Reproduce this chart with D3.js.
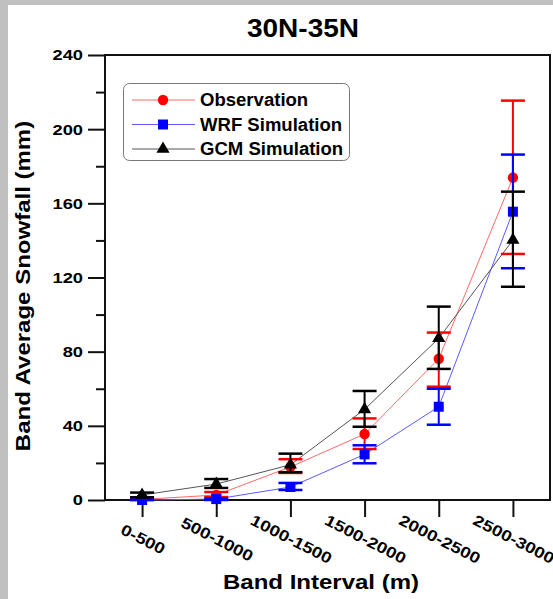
<!DOCTYPE html>
<html>
<head>
<meta charset="utf-8">
<script src="https://cdn.jsdelivr.net/npm/d3@7"></script>
<style>
  html, body { margin: 0; padding: 0; background: #fff; }
  svg { display: block; }
  text { font-family: "Liberation Sans", Arial, sans-serif; font-weight: bold; fill: #000; }
</style>
</head>
<body>
<svg id="chart" width="553" height="599"></svg>
<script>
// Elevation bands and snowfall (mm) with error-bar bounds
const bands = ["0-500", "500-1000", "1000-1500", "1500-2000", "2000-2500", "2500-3000"];

const obsMean = [0.3, 2.7, 17.8, 35.6, 76.2, 173.9];
const obsLow  = [0, 1.6, 14.6, 27.5, 61.1, 132.7];
const obsHigh = [0.8, 4.3, 22, 44, 90.3, 215.4];

const wrfMean = [0, 0.5, 7, 24.6, 50.3, 155.5];
const wrfLow  = [0, 0, 5.4, 19.8, 40.6, 125];
const wrfHigh = [0.3, 0.8, 9.2, 29.5, 60, 186.3];

const gcmMean = [2.7, 8.6, 19, 48.9, 87.2, 140.2];
const gcmLow  = [1.5, 6.5, 15, 39.5, 70.7, 115];
const gcmHigh = [4, 11.3, 25, 58.8, 104.3, 166.3];

const yTicks = [0, 40, 80, 120, 160, 200, 240];
const yMinorTicks = [20, 60, 100, 140, 180, 220];

const svg = d3.select("#chart");

// light grey page edge
svg.append("rect").attr("x", 0).attr("y", 0).attr("width", 553).attr("height", 599).attr("fill", "#c0c0c0");
svg.append("rect").attr("x", 8).attr("y", 5).attr("width", 545).attr("height", 594).attr("fill", "#fff");

const L = 105, R = 550, T = 55, B = 500;
const x = d3.scaleLinear().domain([0.5, 6.5]).range([L, R]);
const y = d3.scaleLinear().domain([0, 240]).range([B, T]);

// stretch text horizontally along its own direction
function widen(sel, k) {
  sel.each(function () {
    const w = this.getComputedTextLength();
    d3.select(this).attr("textLength", w * k).attr("lengthAdjust", "spacingAndGlyphs");
  });
}

// title
svg.append("text").attr("x", 303).attr("y", 37).attr("text-anchor", "middle")
  .style("font-size", "25px").text("30N-35N").call(widen, 1.12);

// frame
svg.append("rect").attr("x", L).attr("y", T).attr("width", R - L).attr("height", B - T)
  .attr("fill", "none").attr("stroke", "#111").attr("stroke-width", 2);

// y axis: major ticks with labels, minor ticks without
const yAxis = svg.append("g").attr("transform", `translate(${L},0)`)
  .call(d3.axisLeft(y).tickValues(yTicks).tickSize(17).tickPadding(5).tickFormat(d3.format("d")));
yAxis.select(".domain").remove();
yAxis.selectAll("line").attr("stroke", "#111").attr("stroke-width", 2);
yAxis.selectAll("text").style("font-size", "15.5px").attr("font-family", null).call(widen, 1.18);

const yMinor = svg.append("g").attr("transform", `translate(${L},0)`)
  .call(d3.axisLeft(y).tickValues(yMinorTicks).tickSize(9).tickFormat(""));
yMinor.select(".domain").remove();
yMinor.selectAll("line").attr("stroke", "#111").attr("stroke-width", 2);

// x axis: ticks below, rotated band labels
const xAxis = svg.append("g").attr("transform", `translate(0,${B})`)
  .call(d3.axisBottom(x).tickValues(d3.range(1, bands.length + 1)).tickSize(17)
    .tickFormat((d) => bands[d - 1]));
xAxis.select(".domain").remove();
xAxis.selectAll("line").attr("stroke", "#111").attr("stroke-width", 2);
xAxis.selectAll("text")
  .style("font-size", "15.5px").attr("font-family", null)
  .attr("text-anchor", "middle").attr("y", 0).attr("dy", 0)
  .attr("transform", "translate(-2,44) rotate(27)")
  .call(widen, 1.2);

// axis titles
svg.append("text").attr("x", 321).attr("y", 589).attr("text-anchor", "middle")
  .style("font-size", "20px").text("Band Interval (m)").call(widen, 1.2);
svg.append("text").attr("transform", "translate(30,286) rotate(-90)").attr("text-anchor", "middle")
  .style("font-size", "20px").text("Band Average Snowfall (mm)").call(widen, 1.2);

const series = [
  { name: "Observation", mean: obsMean, low: obsLow, high: obsHigh, color: "#ff0000", line: "#ff6a6a", shape: "circle" },
  { name: "WRF Simulation", mean: wrfMean, low: wrfLow, high: wrfHigh, color: "#0000ff", line: "#5a5aff", shape: "square" },
  { name: "GCM Simulation", mean: gcmMean, low: gcmLow, high: gcmHigh, color: "#000000", line: "#555555", shape: "triangle" }
];

const symbolFor = {
  circle: d3.symbol().type(d3.symbolCircle).size(85),
  square: d3.symbol().type(d3.symbolSquare).size(100),
  triangle: d3.symbol().type(d3.symbolTriangle).size(75)
};

const line = d3.line().x((d, i) => x(i + 1)).y((d) => y(d));

// connecting lines
series.forEach((s) => {
  svg.append("path").datum(s.mean).attr("d", line)
    .attr("fill", "none").attr("stroke", s.line).attr("stroke-width", 1);
});

// error bars and markers
series.forEach((s) => {
  const g = svg.append("g");
  const idx = d3.range(bands.length);
  g.selectAll("line.v").data(idx).join("line")
    .attr("x1", (i) => x(i + 1)).attr("x2", (i) => x(i + 1))
    .attr("y1", (i) => y(s.low[i])).attr("y2", (i) => y(s.high[i]))
    .attr("stroke", s.color).attr("stroke-width", 2);
  [s.low, s.high].forEach((arr) => {
    g.selectAll(null).data(idx).join("line")
      .attr("x1", (i) => x(i + 1) - 12).attr("x2", (i) => x(i + 1) + 12)
      .attr("y1", (i) => y(arr[i])).attr("y2", (i) => y(arr[i]))
      .attr("stroke", s.color).attr("stroke-width", 2.5);
  });
  g.selectAll("path").data(idx).join("path")
    .attr("d", symbolFor[s.shape])
    .attr("transform", (i) => `translate(${x(i + 1)},${y(s.mean[i])})`)
    .attr("fill", s.color);
});

// legend
const leg = svg.append("g");
leg.append("rect").attr("x", 123.5).attr("y", 83.5).attr("width", 226).attr("height", 77)
  .attr("rx", 6).attr("fill", "#fff").attr("stroke", "#777").attr("stroke-width", 1);
series.forEach((s, i) => {
  const cy = 100 + i * 24.5;
  leg.append("line").attr("x1", 132).attr("x2", 195).attr("y1", cy).attr("y2", cy)
    .attr("stroke", s.line).attr("stroke-width", 1);
  leg.append("path").attr("d", symbolFor[s.shape]).attr("transform", `translate(163,${cy})`).attr("fill", s.color);
  leg.append("text").attr("x", 200).attr("y", cy + 6).style("font-size", "18px").text(s.name).call(widen, 1.03);
});
</script>
</body>
</html>
